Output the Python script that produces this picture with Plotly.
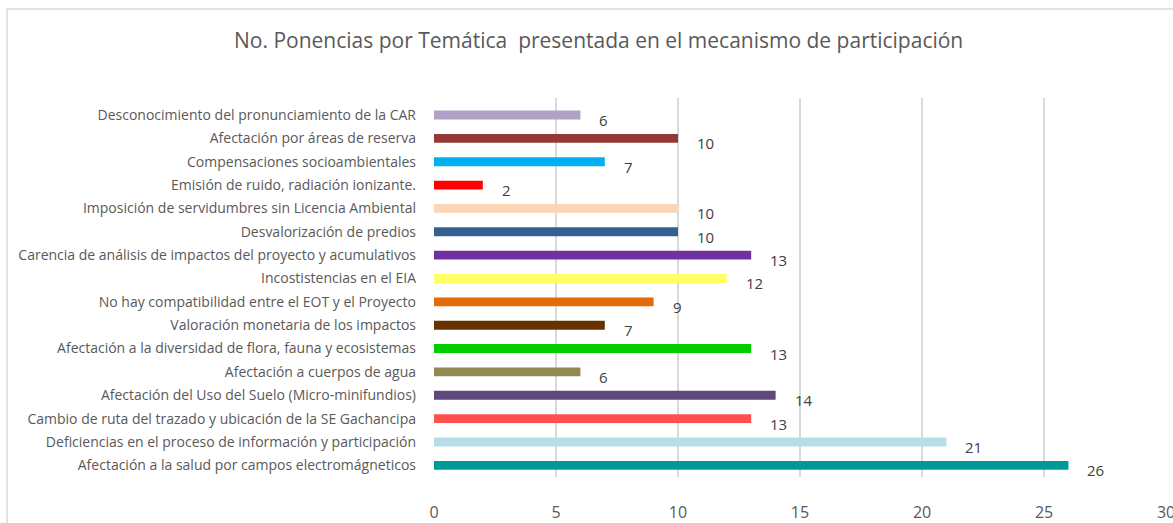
import plotly.graph_objects as go

categories = [
    "Desconocimiento del pronunciamiento de la CAR",
    "Afectación por áreas de reserva",
    "Compensaciones socioambientales",
    "Emisión de ruido, radiación ionizante.",
    "Imposición de servidumbres sin Licencia Ambiental",
    "Desvalorización de predios",
    "Carencia de análisis de impactos del proyecto y acumulativos",
    "Incostistencias en el EIA",
    "No hay compatibilidad entre el EOT y el Proyecto",
    "Valoración monetaria de los impactos",
    "Afectación a la diversidad de flora, fauna y ecosistemas",
    "Afectación a cuerpos de agua",
    "Afectación del Uso del Suelo (Micro-minifundios)",
    "Cambio de ruta del trazado y ubicación de la SE Gachancipa",
    "Deficiencias en el proceso de información y participación",
    "Afectación a la salud por campos electromágneticos",
]
values = [6, 10, 7, 2, 10, 10, 13, 12, 9, 7, 13, 6, 14, 13, 21, 26]
colors = [
    "#b2a1c7", "#953735", "#00b0f0", "#ff0000", "#fbd5b5", "#366092",
    "#7030a0", "#ffff66", "#e36c09", "#663300", "#00cc00", "#938953",
    "#5f497a", "#ff5050", "#b7dde8", "#009999",
]
x_ticks = [0, 5, 10, 15, 20, 25, 30]
title = "No. Ponencias por Temática  presentada en el mecanismo de participación"

FONT = "Open Sans"
TXT = "#595959"

W, H = 1173, 523
ML, MR, MT, MB = 434, 6, 98, 46
PW, PH = W - ML - MR, H - MT - MB

fig = go.Figure()
fig.add_trace(go.Bar(
    y=categories, x=values, orientation="h",
    marker=dict(color=colors, line=dict(width=0)),
    width=0.38, hoverinfo="skip",
))

annotations = []
for c, v in zip(categories, values):
    annotations.append(dict(
        x=v, y=c, xref="x", yref="y", text=str(v), showarrow=False,
        xanchor="left", yanchor="middle", xshift=17, yshift=-5,
        font=dict(family=FONT, size=15, color="#404040"),
    ))
annotations.append(dict(
    x=(598 - ML) / PW, y=(H - MB - 40) / PH, xref="paper", yref="paper",
    text=title, showarrow=False, xanchor="center", yanchor="middle",
    font=dict(family=FONT, size=21, color=TXT),
))

fig.update_layout(
    width=W, height=H,
    margin=dict(l=ML, r=MR, t=MT, b=MB, autoexpand=False),
    paper_bgcolor="white", plot_bgcolor="white",
    showlegend=False,
    annotations=annotations,
    xaxis=dict(
        range=[0, 30.04], tickvals=x_ticks, ticktext=[str(t) for t in x_ticks],
        showgrid=True, gridcolor="#d9d9d9", gridwidth=2,
        zeroline=False, showline=False, ticks="",
        ticklabelstandoff=24, ticklabeloverflow="allow",
        tickfont=dict(family=FONT, size=16, color=TXT),
    ),
    yaxis=dict(
        autorange="reversed", showgrid=False, zeroline=False, ticks="",
        showline=False, ticklabelstandoff=17,
        tickfont=dict(family=FONT, size=14, color=TXT),
    ),
    shapes=[dict(
        type="rect", xref="paper", yref="paper",
        x0=(7 - ML) / PW, x1=1.05, y0=-0.2, y1=1 + (MT - 9) / PH,
        line=dict(color="#d9d9d9", width=1.5), layer="below",
    )],
)

fig.write_html(
    "out.html",
    config={"displayModeBar": False},
    post_script="document.body.style.margin='0';document.body.style.overflow='hidden';",
)
